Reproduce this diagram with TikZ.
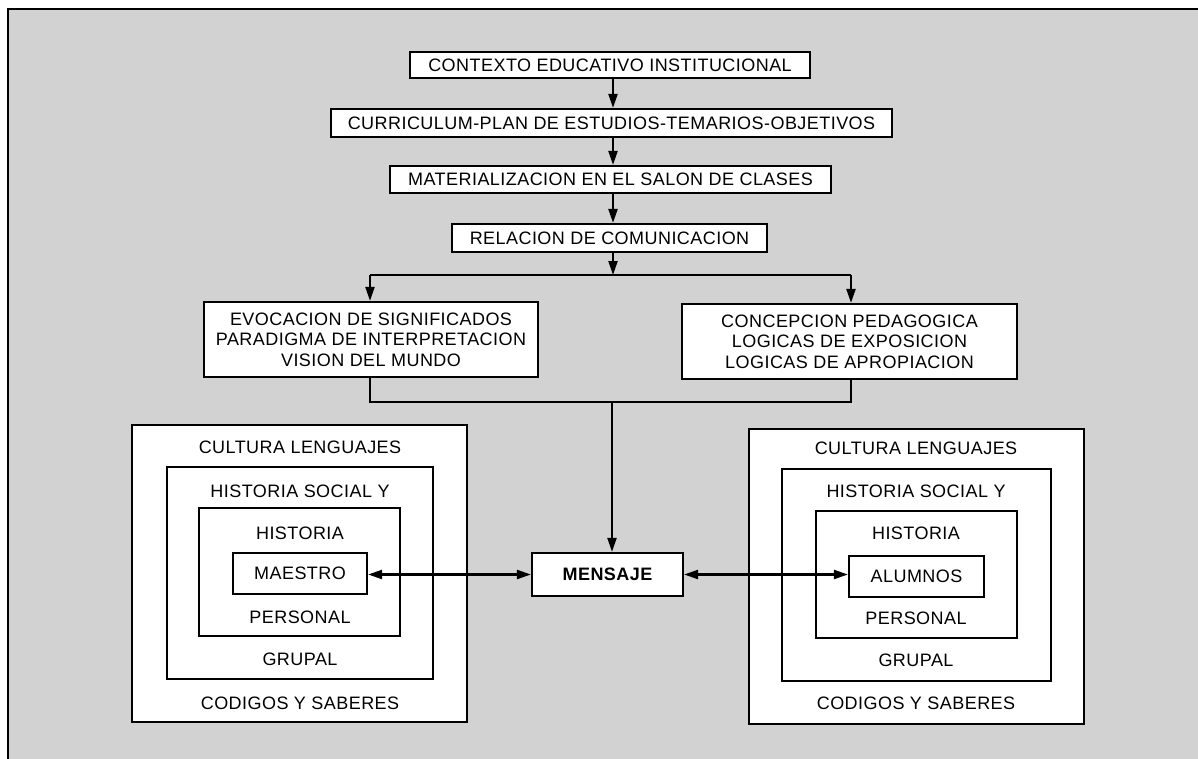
\documentclass[tikz,border=0pt]{standalone}
\usepackage{fontspec}
\setmainfont{Liberation Sans}[LetterSpace=2.5]
\usetikzlibrary{arrows.meta}
\definecolor{bg}{RGB}{210,210,210}
\begin{document}
\begin{tikzpicture}[x=1pt,y=-1pt,line width=2.2pt,
  txt/.style={font=\fontsize{18}{20.5}\selectfont},
  box/.style={draw=black,fill=white,inner sep=0pt,align=center,txt},
  lbl/.style={inner sep=0pt,align=center,txt},
  arr/.style={-{Triangle[length=14pt,width=9pt]}},
  darr/.style={{Triangle[length=14pt,width=9pt]}-{Triangle[length=14pt,width=9pt]}}]
\useasboundingbox (0,0) rectangle (1198,759);
\fill[white] (0,0) rectangle (1198,759);
\fill[bg] (8,9) rectangle (1198,759);
\draw[line width=2.6pt] (8,759) -- (8,9) -- (1198,9);

% top chain
\node[box,minimum width=400pt,minimum height=26pt] (b1) at (610,65) {CONTEXTO EDUCATIVO INSTITUCIONAL};
\node[box,minimum width=561pt,minimum height=28pt] (b2) at (611.5,123) {CURRICULUM-PLAN DE ESTUDIOS-TEMARIOS-OBJETIVOS};
\node[box,minimum width=441pt,minimum height=27pt] (b3) at (610.5,179.5) {MATERIALIZACION EN EL SALON DE CLASES};
\node[box,minimum width=315pt,minimum height=28pt] (b4) at (609.5,238) {RELACION DE COMUNICACION};
\node[box,minimum width=334pt,minimum height=75pt] (b5) at (371,339.5) {EVOCACION DE SIGNIFICADOS\\PARADIGMA DE INTERPRETACION\\VISION DEL MUNDO};
\node[box,minimum width=335pt,minimum height=75pt] (b6) at (849.5,341.5) {CONCEPCION PEDAGOGICA\\LOGICAS DE EXPOSICION\\LOGICAS DE APROPIACION};
\node[box,minimum width=151pt,minimum height=43pt,font=\fontsize{18}{20.5}\selectfont\bfseries] (msg) at (607.5,574.5) {MENSAJE};

% left nest
\node[box,minimum width=335pt,minimum height=297pt] (L0) at (299.5,573.5) {};
\node[box,minimum width=266pt,minimum height=212pt] (L1) at (300,573) {};
\node[box,minimum width=201pt,minimum height=128pt] (L2) at (299.5,572) {};
\node[box,minimum width=134pt,minimum height=41pt] (L3) at (300,573.5) {MAESTRO};
\node[lbl] (lt1) at (300,447) {CULTURA LENGUAJES};
\node[lbl] (lt2) at (300,491) {HISTORIA SOCIAL Y};
\node[lbl] (lt3) at (300,533) {HISTORIA};
\node[lbl] (lt4) at (300,617) {PERSONAL};
\node[lbl] (lt5) at (300,659) {GRUPAL};
\node[lbl] (lt6) at (300,703) {CODIGOS Y SABERES};

% right nest
\node[box,minimum width=335pt,minimum height=295pt] (R0) at (916.5,576.5) {};
\node[box,minimum width=269pt,minimum height=212pt] (R1) at (916.5,575) {};
\node[box,minimum width=201pt,minimum height=127pt] (R2) at (916.5,574.5) {};
\node[box,minimum width=135pt,minimum height=41pt] (R3) at (916.5,576.5) {ALUMNOS};
\node[lbl] (rt1) at (916,448) {CULTURA LENGUAJES};
\node[lbl] (rt2) at (916,491) {HISTORIA SOCIAL Y};
\node[lbl] (rt3) at (916,533) {HISTORIA};
\node[lbl] (rt4) at (916,618) {PERSONAL};
\node[lbl] (rt5) at (916,660) {GRUPAL};
\node[lbl] (rt6) at (916,703) {CODIGOS Y SABERES};

% coordinates
\coordinate (ax) at (613,0);
\coordinate (sp) at (613,275);
\coordinate (spl) at (370,275);
\coordinate (spr) at (851,275);
\coordinate (jl) at (370,402);
\coordinate (jr) at (851,402);
\coordinate (jm) at (612,402);

\draw[arr] (b1.south -| ax) -- (b2.north -| ax);
\draw[arr] (b2.south -| ax) -- (b3.north -| ax);
\draw[arr] (b3.south -| ax) -- (b4.north -| ax);
\draw[arr] (b4.south -| ax) -- (sp);
\draw (spl) -- (spr);
\draw[arr] (spl) -- (b5.north -| spl);
\draw[arr] (spr) -- (b6.north -| spr);
\draw (b5.south -| jl) -- (jl) -- (jr) -- (b6.south -| jr);
\draw[arr] (jm) -- (msg.north -| jm);
\draw[darr] (msg.west) -- (msg.west -| L3.east);
\draw[darr] (msg.east) -- (msg.east -| R3.west);
\end{tikzpicture}
\end{document}
